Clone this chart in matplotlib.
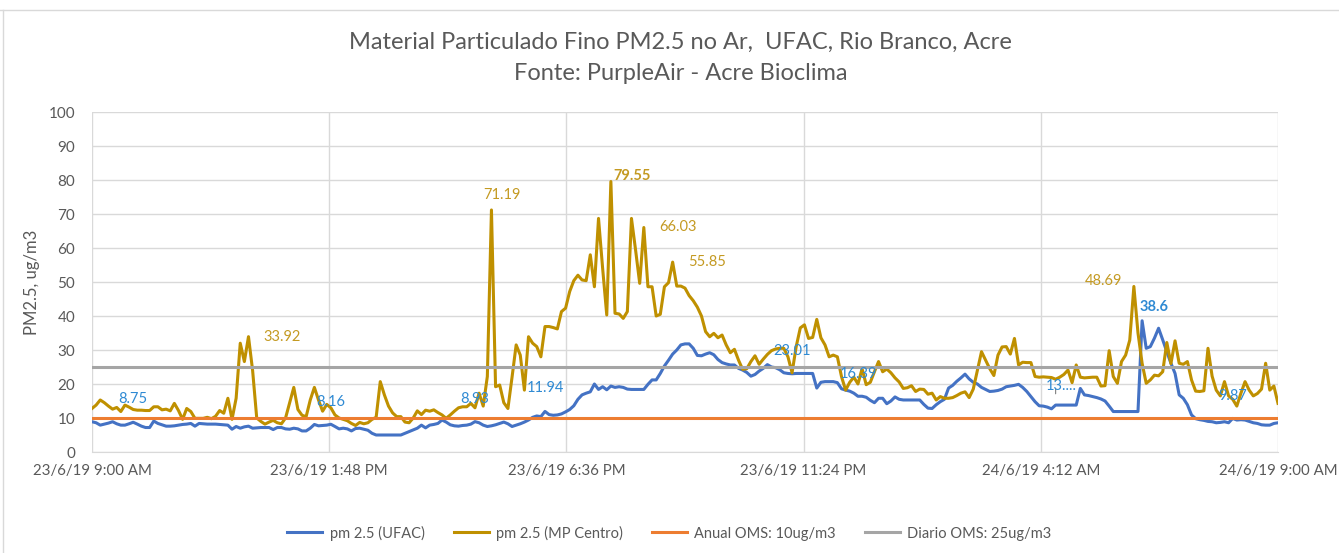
import numpy as np
import matplotlib
matplotlib.use("Agg")
import matplotlib.pyplot as plt
from matplotlib.lines import Line2D

plt.rcParams['font.family'] = ['Lato', 'DejaVu Sans']

# ---------------- data (5-minute readings, 23/6/19 9:00 AM -> 24/6/19 9:00 AM) ----------------
ufac = [
    8.9, 8.6, 7.9, 8.2, 8.5, 8.9, 8.3, 7.9, 7.9, 8.3, 8.75, 8.2,
    7.6, 7.2, 7.2, 9.1, 8.4, 8.0, 7.6, 7.6, 7.7, 7.9, 8.1, 8.2,
    8.4, 7.6, 8.4, 8.3, 8.2, 8.2, 8.2, 8.1, 8.0, 7.9, 6.7, 7.5,
    7.0, 7.4, 7.6, 7.0, 7.1, 7.2, 7.2, 7.2, 6.6, 7.2, 7.2, 6.8,
    6.7, 7.0, 6.8, 6.2, 6.2, 7.0, 8.1, 7.7, 7.8, 7.9, 8.16, 7.5,
    6.8, 7.0, 6.8, 6.2, 6.9, 7.0, 6.7, 6.4, 5.5, 5.0, 5.0, 5.0,
    5.0, 5.0, 5.0, 5.0, 5.5, 6.0, 6.5, 7.0, 7.9, 7.1, 7.9, 8.1,
    8.4, 9.4, 8.8, 8.0, 7.7, 7.6, 7.8, 7.9, 8.2, 8.93, 8.6, 7.9,
    7.5, 7.7, 8.0, 8.4, 8.8, 8.3, 7.5, 7.9, 8.3, 8.8, 9.4, 10.2,
    10.6, 10.4, 11.94, 11.0, 10.8, 10.9, 11.2, 11.8, 12.5, 13.6, 15.5, 16.8,
    17.3, 17.7, 20.0, 18.4, 19.2, 18.3, 19.4, 19.0, 19.2, 19.0, 18.5, 18.4,
    18.4, 18.4, 18.4, 19.9, 21.2, 21.2, 23.1, 25.3, 27.0, 28.8, 30.0, 31.5,
    31.8, 31.8, 30.5, 28.4, 28.3, 28.8, 29.2, 28.6, 27.2, 26.3, 25.9, 25.6,
    25.6, 24.6, 24.1, 23.4, 22.3, 22.8, 23.8, 24.6, 25.7, 25.0, 24.8, 24.2,
    23.3, 23.1, 23.01, 23.1, 23.1, 23.1, 23.1, 23.1, 18.8, 20.5, 20.7, 20.7,
    20.7, 20.4, 18.6, 18.2, 17.9, 17.3, 16.39, 16.4, 16.1, 15.2, 14.5, 15.8,
    15.8, 14.2, 15.0, 16.2, 15.5, 15.3, 15.3, 15.3, 15.3, 15.3, 14.0, 12.9,
    12.8, 13.9, 14.8, 15.5, 18.8, 19.6, 20.8, 21.8, 22.9, 21.5, 20.5, 20.0,
    19.0, 18.4, 17.8, 17.9, 18.1, 18.5, 19.2, 19.4, 19.6, 19.9, 19.0, 17.8,
    16.3, 14.8, 13.6, 13.5, 13.2, 12.7, 13.8, 13.8, 13.8, 13.8, 13.8, 13.8,
    18.7, 16.8, 16.6, 16.3, 16.0, 15.6, 15.0, 13.5, 11.9, 11.9, 11.9, 11.9,
    11.9, 11.9, 11.9, 38.6, 30.5, 31.0, 33.5, 36.4, 33.0, 29.5, 26.1, 23.1,
    16.8, 15.8, 13.9, 10.9, 9.8, 9.5, 9.3, 9.0, 8.9, 8.6, 8.7, 8.9,
    8.6, 9.87, 9.4, 9.5, 9.4, 9.0, 8.6, 8.4, 8.0, 7.9, 7.9, 8.4, 8.6,
]

mp_centro = [
    12.8, 13.8, 15.3, 14.5, 13.5, 12.6, 13.1, 11.9, 13.8, 13.2, 12.5, 12.3,
    12.3, 12.2, 12.2, 13.3, 13.3, 12.4, 12.6, 12.1, 14.3, 12.2, 9.6, 12.8,
    11.9, 9.9, 9.9, 9.9, 10.2, 9.8, 10.5, 12.2, 11.4, 15.8, 9.6, 15.8,
    32.0, 26.6, 33.92, 24.0, 10.0, 9.0, 8.2, 8.8, 9.3, 8.6, 8.3, 10.0,
    14.5, 19.0, 12.5, 10.8, 10.4, 15.3, 19.0, 15.3, 12.0, 14.0, 13.0, 10.9,
    10.0, 9.6, 9.2, 8.4, 7.8, 8.7, 8.3, 8.6, 9.6, 10.2, 20.7, 16.8,
    13.5, 11.5, 10.4, 10.4, 8.8, 8.6, 10.0, 12.1, 11.0, 12.3, 12.0, 12.4,
    11.6, 10.9, 9.9, 10.9, 12.0, 13.0, 13.3, 13.3, 14.3, 13.0, 17.3, 13.5,
    22.2, 71.19, 19.2, 19.7, 14.5, 12.8, 22.0, 31.5, 28.5, 18.2, 33.9, 32.0,
    31.0, 28.0, 36.9, 36.9, 36.6, 36.2, 41.3, 42.3, 47.2, 50.4, 52.0, 50.6,
    50.4, 58.0, 48.6, 68.7, 54.0, 40.3, 79.55, 40.8, 40.6, 39.3, 41.3, 68.7,
    59.4, 49.6, 66.03, 48.6, 48.6, 40.0, 40.5, 48.6, 49.8, 55.85, 48.8, 48.8,
    48.2, 46.0, 44.5, 42.6, 40.0, 35.4, 33.9, 34.9, 33.6, 34.4, 31.5, 29.2,
    30.2, 27.0, 24.3, 24.5, 26.6, 28.3, 25.8, 27.3, 28.7, 29.8, 30.3, 30.5,
    30.5, 28.0, 23.3, 31.0, 36.5, 37.4, 33.4, 33.7, 39.0, 33.6, 31.5, 28.0,
    28.5, 28.0, 22.2, 18.2, 20.5, 22.0, 20.0, 24.5, 19.8, 20.5, 23.6, 26.6,
    23.6, 24.4, 23.3, 21.8, 20.6, 18.7, 18.9, 19.5, 17.8, 18.5, 18.4, 17.0,
    17.3, 15.3, 16.3, 15.8, 15.8, 16.0, 16.6, 17.3, 17.7, 16.0, 18.5, 24.0,
    29.5, 27.0, 24.5, 22.5, 28.5, 30.9, 31.0, 28.8, 33.4, 25.6, 26.4, 26.3,
    26.3, 22.2, 22.0, 22.1, 22.0, 21.9, 21.4, 22.0, 22.8, 24.1, 20.4, 25.6,
    22.0, 21.8, 21.9, 22.0, 22.0, 19.4, 19.5, 29.8, 22.2, 20.2, 26.6, 28.5,
    32.9, 48.69, 35.0, 26.1, 20.2, 21.2, 22.6, 22.4, 23.6, 32.2, 26.0, 32.7,
    26.1, 25.8, 26.6, 21.2, 17.9, 17.8, 18.0, 30.5, 22.3, 18.2, 16.5, 20.7,
    16.5, 15.5, 13.5, 17.3, 20.7, 18.2, 16.5, 17.2, 18.5, 26.1, 18.2, 19.4, 14.3,
]

anual_oms = 10
diario_oms = 25

series_names = ["pm 2.5 (UFAC)", "pm 2.5 (MP Centro)", "Anual OMS: 10ug/m3", "Diario OMS: 25ug/m3"]
tick_hours = [0, 4.8, 9.6, 14.4, 19.2, 24]
tick_labels = ["23/6/19 9:00 AM", "23/6/19 1:48 PM", "23/6/19 6:36 PM",
               "23/6/19 11:24 PM", "24/6/19 4:12 AM", "24/6/19 9:00 AM"]

# data labels: (series, index, text, dx_px, dy_px, bold)
labels = [
    ("ufac", 10, "8.75", 0, 23, False),
    ("mp", 38, "33.92", 34, 0, False),
    ("ufac", 58, "8.16", 0, 22, False),
    ("ufac", 93, "8.93", 0, 23, False),
    ("mp", 97, "71.19", 10, 15, False),
    ("ufac", 110, "11.94", 0, 23, False),
    ("mp", 126, "79.55", 21, 6, True),
    ("mp", 134, "66.03", 34, 0, False),
    ("mp", 141, "55.85", 34, 0, False),
    ("ufac", 170, "23.01", 0, 23, False),
    ("ufac", 186, "16.39", 0, 22, False),
    ("ufac", 234, "13....", 6, 19, False),
    ("mp", 253, "48.69", -30, 5, False),
    ("ufac", 255, "38.6", 12, 14, True),
    ("ufac", 277, "9.87", 0, 22, False),
]

# ---------------- plotting ----------------
c_blue, c_gold, c_orange, c_gray = "#4472C4", "#BF9000", "#ED7D31", "#A5A5A5"
c_blue_lbl, c_gold_lbl = "#2F8AD3", "#C49A22"
txt = "#595959"

hours = np.arange(len(ufac)) * 5 / 60.0

fig = plt.figure(figsize=(13.39, 5.53), dpi=100)
ax = fig.add_axes([92 / 1339, 1 - 452 / 553, (1278 - 92) / 1339, (452 - 112) / 553])

ax.plot(hours, ufac, color=c_blue, lw=2.2, label=series_names[0], zorder=3)
ax.plot(hours, mp_centro, color=c_gold, lw=2.2, label=series_names[1], zorder=4)
ax.plot(hours, np.full(len(hours), anual_oms), color=c_orange, lw=2.2, label=series_names[2], zorder=5)
ax.plot(hours, np.full(len(hours), diario_oms), color=c_gray, lw=2.2, label=series_names[3], zorder=6)

ax.set_xlim(0, 24)
ax.set_ylim(0, 100)
ax.set_yticks(range(0, 101, 10))
ax.set_xticks(tick_hours)
ax.set_xticklabels(tick_labels)
ax.grid(True, color="#D9D9D9", lw=1)
ax.set_axisbelow(True)
for s in ["top", "right", "left"]:
    ax.spines[s].set_visible(False)
ax.spines["bottom"].set_color("#D9D9D9")
ax.tick_params(axis="both", length=0, colors=txt)
ax.tick_params(axis="x", pad=9, labelsize=10.8)
ax.tick_params(axis="y", pad=12, labelsize=11)
ax.set_ylabel("PM2.5, ug/m3", color=txt, fontsize=12, labelpad=6)

for ser, idx, text, dx, dy, bold in labels:
    vals = ufac if ser == "ufac" else mp_centro
    col = c_blue_lbl if ser == "ufac" else c_gold_lbl
    ax.annotate(text, (hours[idx], vals[idx]), xytext=(dx, dy), textcoords="offset pixels",
                ha="center", va="center", color=col, fontsize=10.5,
                fontweight="bold" if bold else "normal", zorder=7)
    if text.endswith("...."):
        ax.annotate("", (hours[idx], vals[idx] + 2.5), xytext=(0, 11), textcoords="offset pixels",
                    arrowprops=dict(arrowstyle="-", color="#7F7F7F", lw=0.8))

fig.text(0.5085, 1 - 42 / 553, "Material Particulado Fino PM2.5 no Ar,  UFAC, Rio Branco, Acre",
         ha="center", va="center", fontsize=17, color=txt)
fig.text(0.5085, 1 - 74 / 553, "Fonte: PurpleAir - Acre Bioclima",
         ha="center", va="center", fontsize=17, color=txt)

handles = [Line2D([], [], color=c, lw=2.2) for c in (c_blue, c_gold, c_orange, c_gray)]
fig.legend(handles, series_names, loc="center", bbox_to_anchor=(0.5, 1 - 533 / 553), ncol=4,
           frameon=False, fontsize=10.5, labelcolor=txt, handlelength=2.4, columnspacing=2.0,
           handletextpad=0.5)

# chart border
fig.add_artist(Line2D([0, 1], [1 - 10 / 553] * 2, color="#D9D9D9", lw=1, transform=fig.transFigure))
fig.add_artist(Line2D([3 / 1339] * 2, [0, 1 - 10 / 553], color="#D9D9D9", lw=1, transform=fig.transFigure))

fig.savefig("out.png", dpi=100, facecolor="white")
